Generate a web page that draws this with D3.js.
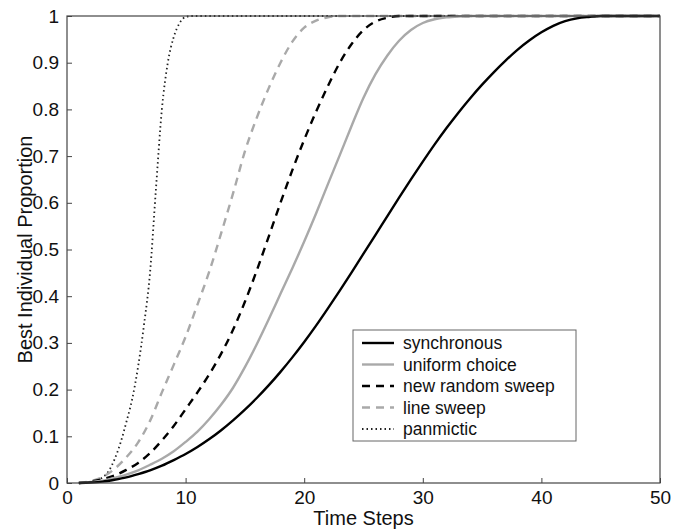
<!DOCTYPE html>
<html>
<head>
<meta charset="utf-8">
<script src="https://cdn.jsdelivr.net/npm/d3@7"></script>
<style>
  html, body { margin: 0; padding: 0; background: #fff; }
  svg { display: block; }
  text { font-family: "Liberation Sans", Arial, Helvetica, sans-serif; fill: #111; }
</style>
</head>
<body>
<svg id="chart" width="684" height="529"></svg>
<script>
// ---- data ----
const timeSteps = [1,2,3,4,5,6,7,8,9,10,11,12,13,14,15,16,17,18,19,20,21,22,23,24,25,26,27,28,29,30,31,32,33,34,35,36,37,38,39,40,41,42,43,44,45,46,47,48,49,50];
const synchronous = [0,0.001,0.003,0.007,0.012,0.019,0.027,0.037,0.049,0.062,0.077,0.094,0.113,0.134,0.157,0.182,0.209,0.238,0.269,0.302,0.337,0.374,0.412,0.451,0.491,0.531,0.571,0.611,0.65,0.688,0.725,0.76,0.793,0.824,0.853,0.88,0.905,0.928,0.948,0.965,0.979,0.989,0.995,0.998,1,1,1,1,1,1];
const uniformChoice = [0,0.002,0.005,0.011,0.018,0.027,0.039,0.052,0.068,0.088,0.11,0.137,0.168,0.204,0.248,0.297,0.35,0.405,0.46,0.517,0.577,0.64,0.702,0.765,0.825,0.875,0.915,0.947,0.97,0.985,0.993,0.997,0.999,1,1,1,1,1,1,1,1,1,1,1,1,1,1,1,1,1];
const newRandomSweep = [0,0.003,0.008,0.016,0.028,0.043,0.064,0.091,0.122,0.158,0.194,0.233,0.277,0.328,0.388,0.455,0.527,0.6,0.67,0.735,0.795,0.85,0.9,0.94,0.97,0.988,0.996,1,1,1,1,1,1,1,1,1,1,1,1,1,1,1,1,1,1,1,1,1,1,1];
const lineSweep = [0,0.004,0.013,0.03,0.055,0.087,0.133,0.194,0.253,0.313,0.382,0.453,0.535,0.62,0.71,0.782,0.845,0.9,0.945,0.975,0.99,0.997,1,1,1,1,1,1,1,1,1,1,1,1,1,1,1,1,1,1,1,1,1,1,1,1,1,1,1,1];
const panmicticTime = [1,1.5,2,2.5,3,3.5,4,4.5,5,5.5,6,6.5,7,7.5,8,8.5,9,9.5,10,10.5,11,15,20,25,30,35,40,45,50];
const panmictic = [0,0.001,0.003,0.006,0.012,0.025,0.05,0.085,0.13,0.18,0.25,0.34,0.45,0.63,0.8,0.9,0.955,0.985,0.998,1,1,1,1,1,1,1,1,1,1];
const seriesNames = ["synchronous","uniform choice","new random sweep","line sweep","panmictic"];
const xTicks = [0,10,20,30,40,50];
const yTicks = [0,0.1,0.2,0.3,0.4,0.5,0.6,0.7,0.8,0.9,1];
const xLabel = "Time Steps";
const yLabel = "Best Individual Proportion";

// ---- layout ----
const W = 684, H = 529;
const m = {left: 67, top: 16, right: 24, bottom: 46};
const svg = d3.select("#chart");
const x = d3.scaleLinear().domain([0, 50]).range([m.left, W - m.right]);
const y = d3.scaleLinear().domain([0, 1]).range([H - m.bottom, m.top]);

const styles = [
  {color: "#000", width: 2.4, dash: null},
  {color: "#a9a9a9", width: 2.4, dash: null},
  {color: "#000", width: 2.4, dash: "8,6"},
  {color: "#a9a9a9", width: 2.4, dash: "8,6"},
  {color: "#222", width: 1.8, dash: "1.5,3"}
];
const series = [
  timeSteps.map((t, i) => [t, synchronous[i]]),
  timeSteps.map((t, i) => [t, uniformChoice[i]]),
  timeSteps.map((t, i) => [t, newRandomSweep[i]]),
  timeSteps.map((t, i) => [t, lineSweep[i]]),
  panmicticTime.map((t, i) => [t, panmictic[i]])
];

const line = d3.line().x(d => x(d[0])).y(d => y(d[1])).curve(d3.curveMonotoneX);

const order = [4, 3, 2, 1, 0];
order.forEach(i => {
  svg.append("path")
    .datum(series[i])
    .attr("fill", "none")
    .attr("stroke", styles[i].color)
    .attr("stroke-width", styles[i].width)
    .attr("stroke-dasharray", styles[i].dash)
    .attr("d", line);
});

// axes
const axisColor = "#444";
const xAxis = svg.append("g").attr("transform", `translate(0,${H - m.bottom})`)
  .call(d3.axisBottom(x).tickValues(xTicks).tickSizeInner(-5).tickSizeOuter(0).tickPadding(8).tickFormat(d3.format("d")));
const yAxis = svg.append("g").attr("transform", `translate(${m.left},0)`)
  .call(d3.axisLeft(y).tickValues(yTicks).tickSizeInner(-5).tickSizeOuter(0).tickPadding(8).tickFormat(d => d === 0 || d === 1 ? String(d) : d3.format(".1f")(d)));
[xAxis, yAxis].forEach(g => {
  g.select(".domain").remove();
  g.selectAll(".tick line").attr("stroke", axisColor);
  g.selectAll(".tick text").attr("font-size", 19).attr("fill", "#111")
    .style("font-family", '"Liberation Sans", Arial, sans-serif');
});
xAxis.selectAll(".tick text").attr("dy", "0.71em");

// box frame
svg.append("rect")
  .attr("x", x(0)).attr("y", y(1))
  .attr("width", x(50) - x(0)).attr("height", y(0) - y(1))
  .attr("fill", "none").attr("stroke", axisColor).attr("stroke-width", 1.2);

// axis titles
svg.append("text").attr("x", (x(0) + x(50)) / 2).attr("y", 525)
  .attr("text-anchor", "middle").attr("font-size", 20).text(xLabel);
svg.append("text")
  .attr("transform", `translate(32,${(y(0) + y(1)) / 2}) rotate(-90)`)
  .attr("text-anchor", "middle").attr("font-size", 20).text(yLabel);

// legend
const lg = svg.append("g");
lg.append("rect").attr("x", 353).attr("y", 330).attr("width", 223).attr("height", 111)
  .attr("fill", "#fff").attr("stroke", "#666").attr("stroke-width", 1);
seriesNames.forEach((name, i) => {
  const yy = 343 + i * 21.5;
  lg.append("line").attr("x1", 362).attr("x2", 394).attr("y1", yy).attr("y2", yy)
    .attr("stroke", styles[i].color).attr("stroke-width", styles[i].width)
    .attr("stroke-dasharray", styles[i].dash);
  lg.append("text").attr("x", 403).attr("y", yy).attr("dy", "0.35em")
    .attr("font-size", 17.5).text(name);
});
</script>
</body>
</html>
